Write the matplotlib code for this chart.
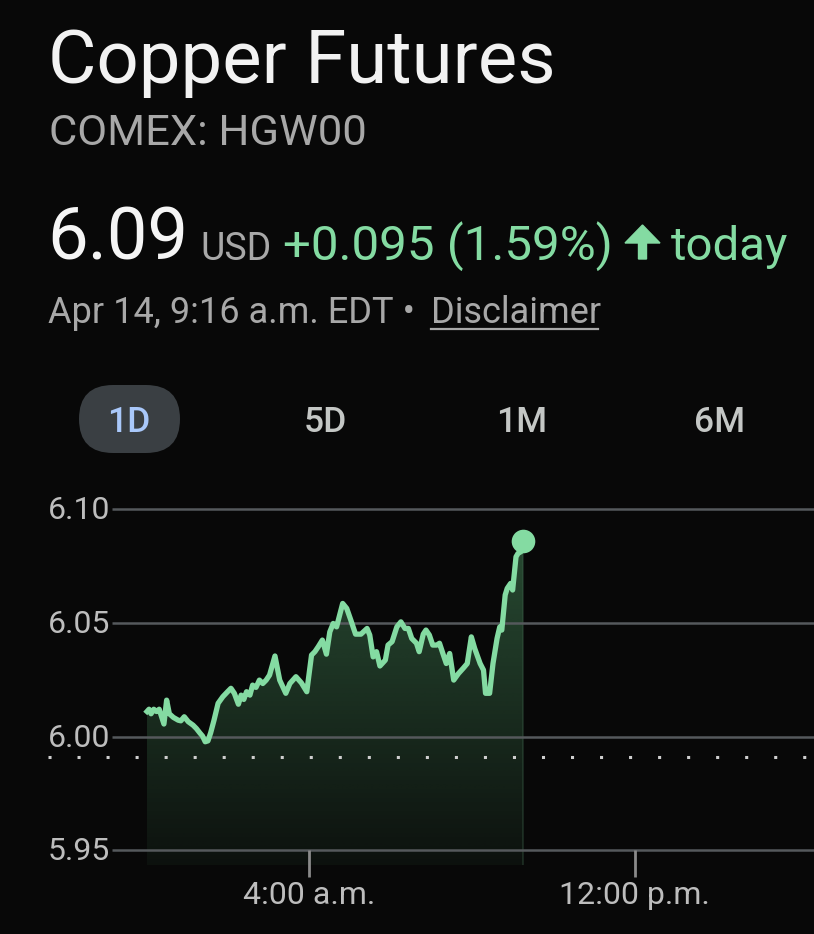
import numpy as np
import matplotlib
matplotlib.use('Agg')
import matplotlib.pyplot as plt
import matplotlib.patches as mpatches
from matplotlib.transforms import IdentityTransform, ScaledTranslation

plt.rcParams['font.family'] = ['Roboto', 'DejaVu Sans']

# minutes after midnight (EDT), Apr 14
minutes = [0, 3, 6, 10, 14, 18, 25, 29, 33, 39, 46, 50, 55, 61, 68, 73, 78, 82,
           86, 90, 94, 99, 105, 112, 119, 124, 129, 135, 139, 143, 147, 152,
           156, 161, 166, 171, 176, 181, 189, 196, 205, 211, 220, 228, 236,
           243, 248, 253, 259, 265, 270, 275, 280, 289, 295, 301, 308, 316,
           325, 329, 334, 339, 344, 352, 356, 362, 369, 375, 381, 386, 391,
           398, 402, 408, 412, 417, 422, 428, 432, 437, 442, 447, 453, 460,
           467, 473, 479, 484, 492, 497, 500, 506, 511, 517, 521, 524, 529,
           532, 537, 540, 542, 545, 548, 552, 555]
price = [6.011, 6.012, 6.010, 6.012, 6.011, 6.012, 6.0055, 6.016, 6.010,
         6.0084, 6.0072, 6.0069, 6.0087, 6.0065, 6.005, 6.0035, 6.0016,
         6.0002, 5.9977, 5.9981, 6.0016, 6.0072, 6.0146, 6.0175, 6.0197,
         6.0212, 6.019, 6.0142, 6.0182, 6.0163, 6.0197, 6.0182, 6.0226,
         6.0216, 6.0248, 6.0233, 6.0248, 6.027, 6.0354, 6.0248, 6.019,
         6.0233, 6.0263, 6.0236, 6.0197, 6.0358, 6.0373, 6.0395, 6.0424,
         6.0362, 6.046, 6.0497, 6.0482, 6.0585, 6.0563, 6.0512, 6.045,
         6.045, 6.0475, 6.0446, 6.035, 6.0373, 6.031, 6.0336, 6.0402,
         6.0417, 6.0482, 6.0504, 6.0475, 6.0475, 6.0431, 6.041, 6.0373,
         6.045, 6.0468, 6.0446, 6.0402, 6.0402, 6.041, 6.0365, 6.0321,
         6.0365, 6.0248, 6.0277, 6.030, 6.0321, 6.0438, 6.0387, 6.0321,
         6.0292, 6.019, 6.019, 6.0321, 6.0431, 6.0482, 6.0468, 6.0622,
         6.0651, 6.0673, 6.0644, 6.0702, 6.079, 6.0805, 6.0812, 6.086]
prev_close = 5.991

yticks = [6.10, 6.05, 6.00, 5.95]
ytick_labels = ['6.10', '6.05', '6.00', '5.95']
xticks = [240, 720]
xtick_labels = ['4:00 a.m.', '12:00 p.m.']
tabs = ['1D', '5D', '1M', '6M']

W, H = 814, 934
bg = '#080808'
green = '#84dba2'
grey = '#bdbdbd'

fig = plt.figure(figsize=(W / 100, H / 100), dpi=100, facecolor=bg)


def fx(x):
    return x / W


def fy(y):
    return 1 - y / H


# header texts
fig.text(fx(48), fy(83), 'Copper Futures', color='#f2f2f2', fontsize=53.5, va='baseline')
fig.text(fx(49), fy(145), 'COMEX: HGW00', color='#a8a8a8', fontsize=31.3, va='baseline')
fig.text(fx(47), fy(260), '6.09', color='#f5f5f5', fontsize=52, va='baseline')
fig.text(fx(200), fy(260), 'USD', color='#a8a8a8', fontsize=27, va='baseline')
fig.text(fx(283), fy(260), '+0.095 (1.59%)', color=green, fontsize=35.5, va='baseline')
fig.text(fx(671), fy(260), 'today', color=green, fontsize=34, va='baseline')
arrow = mpatches.Polygon([(642.5, H - 225), (660, H - 243), (646.5, H - 243),
                          (646.5, H - 259), (638.5, H - 259), (638.5, H - 243),
                          (625, H - 243)], closed=True, color=green,
                         transform=IdentityTransform())
fig.add_artist(arrow)
fig.text(fx(48), fy(323), 'Apr 14, 9:16 a.m. EDT \u2022', color='#a8a8a8', fontsize=26, va='baseline')
fig.text(fx(431), fy(323), 'Disclaimer', color='#a8a8a8', fontsize=26, va='baseline')
fig.add_artist(plt.Line2D([fx(431), fx(598)], [fy(329), fy(329)], color='#a8a8a8', lw=1.6))

# range tabs
pill = mpatches.FancyBboxPatch((79, H - 453), 101, 68,
                               boxstyle='round,pad=0,rounding_size=34',
                               fc='#3a3f43', ec='none', transform=IdentityTransform())
fig.add_artist(pill)
for lab, cx in zip(tabs, [129, 325, 522, 720]):
    fig.text(fx(cx), fy(432), lab, color='#a9c8fa' if lab == '1D' else '#c4c7c5',
             fontsize=25.5, fontweight='medium', ha='center', va='baseline')

# chart
ax = fig.add_axes([0, 0, 1, 454 / H])
ax.set_facecolor(bg)
ax.axis('off')
x0 = -217.1
x1 = 985.1
ylo, yhi = 5.91321, 6.11275
fill_bottom = 5.9435

t = np.array(minutes, dtype=float)
p = np.array(price)

poly = ax.fill_between(t, p, fill_bottom, color='none', lw=0)
grad = np.zeros((256, 1, 4))
rgb = np.array([0.40, 0.80, 0.52])
grad[:, 0, :3] = rgb
grad[:, 0, 3] = np.linspace(0.34, 0.05, 256)
im = ax.imshow(grad, extent=[t[0], t[-1], fill_bottom, p.max()], aspect='auto',
               origin='upper', zorder=1, interpolation='bilinear')
im.set_clip_path(poly.get_paths()[0], transform=ax.transData)
ax.vlines(t[-1], fill_bottom, p[-1], color=green, alpha=0.15, lw=1.4, zorder=1)

gx = -51.7
for v in yticks:
    ax.hlines(v, gx, x1, color='#55595c', lw=1.8, zorder=2)
lab_tr = ax.get_yaxis_transform() + ScaledTranslation(0, -0.10, fig.dpi_scale_trans)
for v, lab in zip(yticks, ytick_labels):
    ax.text(48 / W, v, lab, transform=lab_tr, color=grey, fontsize=23, va='baseline', ha='left')

ax.hlines(prev_close, -146, x1, color='#cfcfcf', lw=2.2, linestyles=(0, (1, 8.5)), zorder=3)

tick_lo = 5.9383
for v, lab in zip(xticks, xtick_labels):
    ax.vlines(v, tick_lo, 5.95, color='#8a8a8a', lw=2.0, zorder=2)
    ax.text(v, 5.9265, lab, color=grey, fontsize=23, ha='center', va='baseline')

ax.plot(t, p, color=green, lw=3.8, solid_joinstyle='round', zorder=4)
ax.plot(t[-1], p[-1], 'o', color=green, ms=17, mec='none', zorder=5)

ax.set_xlim(x0, x1)
ax.set_ylim(ylo, yhi)

fig.savefig('out.png', dpi=100, facecolor=bg)
